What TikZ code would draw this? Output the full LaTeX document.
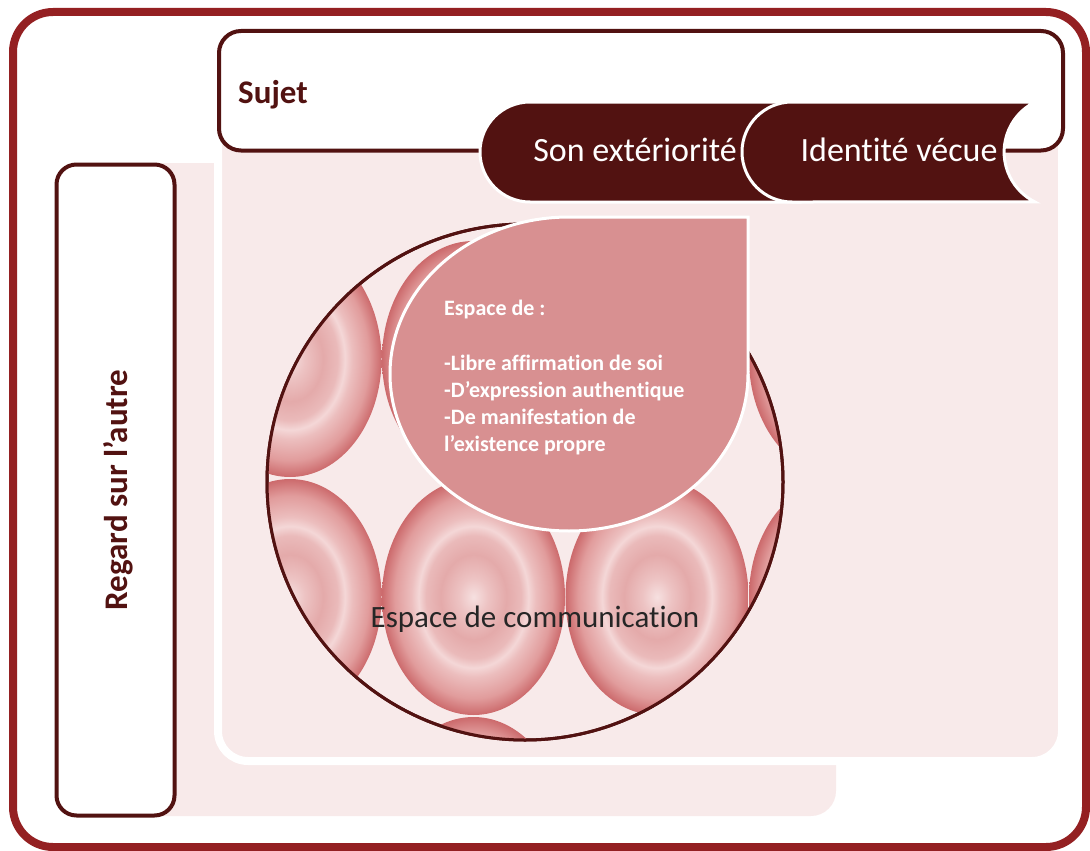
\documentclass[tikz,border=0pt]{standalone}
\usepackage{fontspec}
\setmainfont{Carlito}[Ligatures=NoCommon]
\definecolor{frameRed}{RGB}{148,32,34}
\definecolor{maroon}{RGB}{82,18,17}
\definecolor{panelPink}{RGB}{248,234,234}
\definecolor{boxRose}{RGB}{216,144,145}
\definecolor{darkText}{RGB}{38,38,38}
\definecolor{ringA}{RGB}{246,224,224}
\definecolor{ringB}{RGB}{237,195,195}
\definecolor{ringC}{RGB}{228,170,170}
\definecolor{ringD}{RGB}{234,186,186}
\definecolor{ringE}{RGB}{244,215,215}
\definecolor{ringF}{RGB}{236,190,190}
\definecolor{ringG}{RGB}{225,156,156}
\definecolor{ringH}{RGB}{204,106,108}
\pgfdeclareradialshading{ringshade}{\pgfpoint{0bp}{0bp}}{color(0bp)=(ringA); color(4bp)=(ringB); color(9bp)=(ringC); color(13bp)=(ringD); color(15bp)=(ringE); color(17bp)=(ringF); color(21.5bp)=(ringG); color(25bp)=(ringH); color(50bp)=(ringH)}
\tikzset{
  titletext/.style={text=maroon, font=\fontsize{33}{40}\selectfont\bfseries, inner sep=0pt},
  tabtext/.style={text=white, font=\fontsize{34}{40}\selectfont, inner sep=0pt},
  commtext/.style={text=darkText, font=\fontsize{31}{38}\selectfont, inner sep=0pt},
  listtext/.style={text=white, font=\fontsize{22}{27}\selectfont\bfseries, inner sep=0pt, anchor=base west},
  tabshape/.style={fill=maroon, draw=white, line width=3},
  labelbox/.style={draw=maroon, line width=4, fill=white},
}
\begin{document}
\begin{tikzpicture}[x=1pt,y=-1pt]
\useasboundingbox (0,0) rectangle (1090,851);
% outer frame
\draw[frameRed, line width=8, rounded corners=40] (13,12) rectangle (1086,847);
% pink panels
\fill[panelPink, rounded corners=25] (60,163) rectangle (836,816);
\draw[white, line width=8, fill=panelPink, rounded corners=30] (218,90) rectangle (1062,761);
% label boxes
\draw[labelbox, rounded corners=22] (219,31) rectangle (1063,150.5);
\draw[labelbox, rounded corners=20] (56.5,164.5) rectangle (174.5,815.5);
% tabs
\draw[tabshape] (530,102) -- (800,102) -- (800,202) -- (530,202)
  arc[start angle=90, end angle=270, radius=50] -- cycle;
\draw[tabshape] (792,102) -- (1035,102)
  arc[start angle=243.43, end angle=116.57, radius=55.9] -- (792,202)
  arc[start angle=90, end angle=270, radius=50] -- cycle;
% circle of communication
\draw[maroon, line width=3, fill=panelPink] (525,482) circle[radius=258];
\begin{scope}
  \clip (525,482) circle[radius=258];
  \foreach \cx in {290,473.5,657,840.5} {
    \foreach \cy in {359,597,835} {
      \shade[shading=ringshade] (\cx,\cy) ellipse[x radius=91.5, y radius=118];
    }
  }
\end{scope}
\draw[maroon, line width=3] (525,482) circle[radius=258];
% teardrop box
\draw[white, line width=3, fill=boxRose] (569,217) -- (748,217) -- (748,374)
  arc[start angle=0, end angle=270, x radius=179, y radius=157] -- cycle;
% texts
\node[titletext, anchor=base west] (sujet) at (238,103) {Sujet};
\node[titletext, rotate=90, anchor=base] (regard) at (127,490) {Regard sur l’autre};
\node[tabtext, anchor=base] (ext) at (635,161.5) {Son extériorité};
\node[tabtext, anchor=base] (vec) at (899,161.5) {Identité vécue};
\node[commtext, anchor=base] (comm) at (535,627) {Espace de communication};
\node[listtext] (l1) at (444,315) {Espace de :};
\node[listtext] (l2) at (444,370) {-Libre affirmation de soi};
\node[listtext] (l3) at (444,397) {-D’expression authentique};
\node[listtext] (l4) at (444,424) {-De manifestation de};
\node[listtext] (l5) at (444,451.5) {l’existence propre};
\end{tikzpicture}
\end{document}
